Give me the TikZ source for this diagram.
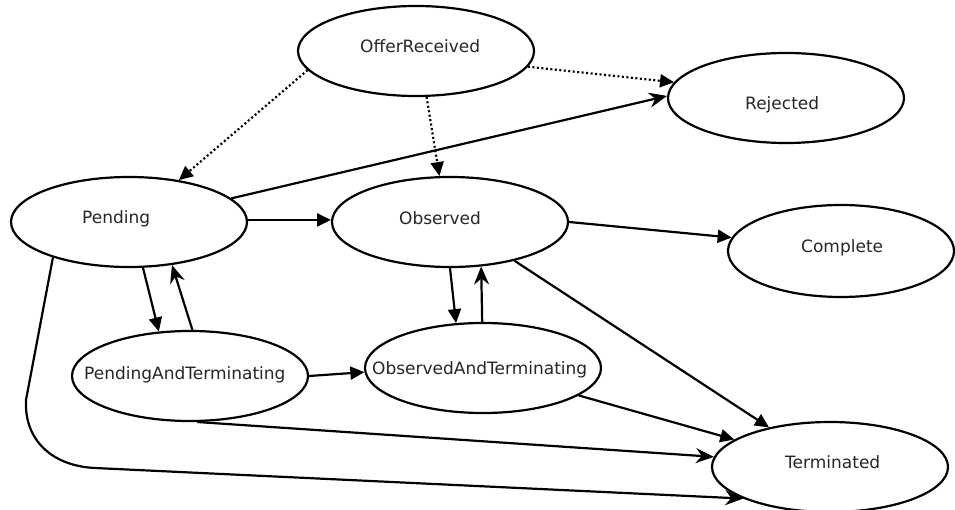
\documentclass[tikz,border=0pt]{standalone}
\usepackage{fontspec}
\setmainfont{DejaVu Sans}
\usetikzlibrary{shapes.geometric,arrows.meta}
\begin{document}
\begin{tikzpicture}[x=1pt,y=-1pt,
  state/.style={draw,line width=2.2pt,ellipse,inner sep=0pt,minimum width=236pt,minimum height=90pt},
  lbl/.style={anchor=base west,inner sep=0pt,text=black!85,font=\fontsize{17}{20}\selectfont},
  edge/.style={line width=2.2pt,-{Triangle[length=14pt,width=13pt]}},
  sedge/.style={line width=2.2pt,-{Stealth[length=18pt,width=15pt,inset=6pt]}},
  dedge/.style={edge,dash pattern=on 2pt off 2.5pt}]
\useasboundingbox (0,0) rectangle (955,510);

% states
\node[state] (off)  at (416,51)  {};
\node[state] (rej)  at (786,98)  {};
\node[state] (pend) at (129,222) {};
\node[state] (obs)  at (450,222) {};
\node[state,minimum width=226pt,minimum height=92pt] (comp) at (841,251) {};
\node[state] (pat)  at (190,376) {};
\node[state] (oat)  at (483,368) {};
\node[state] (term) at (830,467) {};

% state names
\node[lbl] (off-t)  at (360,53)  {OfferReceived};
\node[lbl] (rej-t)  at (745,110) {Rejected};
\node[lbl] (pend-t) at (82,224)  {Pending};
\node[lbl] (obs-t)  at (399,225) {Observed};
\node[lbl] (comp-t) at (801,253) {Complete};
\node[lbl] (pat-t)  at (84,379)  {PendingAndTerminating};
\node[lbl] (oat-t)  at (372,374) {ObservedAndTerminating};
\node[lbl] (term-t) at (785,468) {Terminated};

% optional transitions
\draw[dedge] (off.190.7) -- (pend.40.3);
\draw[dedge] (off.283.5) -- (obs.103.8);
\draw[dedge] (off.352.5) -- (rej.172.7);

% transitions
\draw[sedge] (pend.13) -- (rej.179.5);
\draw[edge]  (pend.1) -- (obs.179);
\draw[edge]  (obs.0) -- (comp.173.5);
\draw[edge]  (obs.-31.5) -- (term.147.8);
\draw[edge]  (pend.-73.9) -- (pat.125);
\draw[sedge] (pat.87.5) -- (pend.-45);
\draw[edge]  (obs.-90) -- (oat.121.3);
\draw[sedge] (oat.91) -- (obs.-55);
\draw[edge]  (pat.0) -- (oat.182);
\draw[edge]  (oat.-16.9) -- (term.164);
\draw[sedge] (pat.-81) -- (term.175);

\coordinate (bend1) at (26,400);
\coordinate (bend2) at (95,468);
\draw[sedge] (pend.205) -- (bend1) .. controls (24,440) and (52,466) .. (bend2) -- (term.200);
\end{tikzpicture}
\end{document}
